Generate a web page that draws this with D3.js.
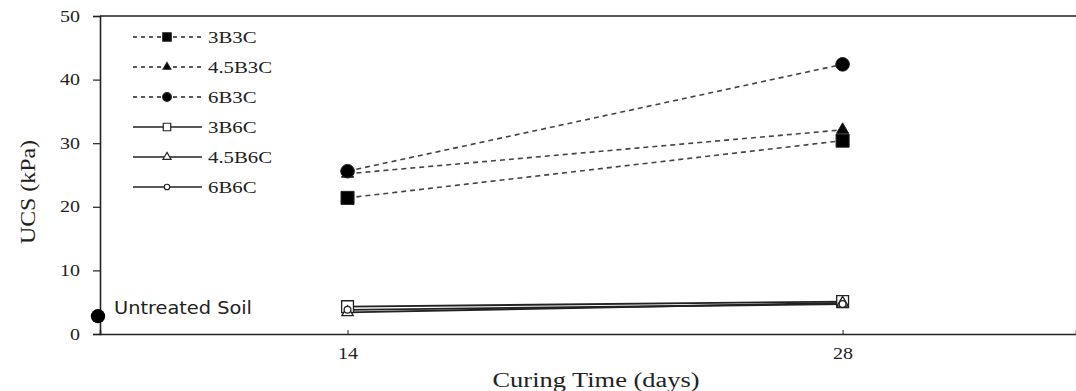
<!DOCTYPE html>
<html>
<head>
<meta charset="utf-8">
<script src="https://cdn.jsdelivr.net/npm/d3@7"></script>
<style>
  html, body { margin: 0; padding: 0; background: #fff; }
  svg { display: block; }
</style>
</head>
<body>
<svg id="chart" width="1076" height="391"></svg>
<script>
// Curing times (days) and UCS results (kPa)
const curingDays = [14, 28];
const seriesNames = ["3B3C", "4.5B3C", "6B3C", "3B6C", "4.5B6C", "6B6C"];
const ucs3B3C   = [21.4, 30.4];
const ucs45B3C  = [25.2, 32.1];
const ucs6B3C   = [25.6, 42.4];
const ucs3B6C   = [4.3, 5.1];
const ucs45B6C  = [3.4, 4.9];
const ucs6B6C   = [3.8, 4.7];
const untreatedSoil = 2.8;
const yTicks = [0, 10, 20, 30, 40, 50];
const xTicks = [14, 28];

const seriesValues = [ucs3B3C, ucs45B3C, ucs6B3C, ucs3B6C, ucs45B6C, ucs6B6C];
const styles = [
  { dash: "5,4", symbol: d3.symbolSquare,   fill: "#000", size: 170, legendSize: 72 },
  { dash: "5,4", symbol: d3.symbolTriangle, fill: "#000", size: 64,  legendSize: 26 },
  { dash: "5,4", symbol: d3.symbolCircle,   fill: "#000", size: 145, legendSize: 60 },
  { dash: null,  symbol: d3.symbolSquare,   fill: "#fff", size: 140, legendSize: 56 },
  { dash: null,  symbol: d3.symbolTriangle, fill: "#fff", size: 55,  legendSize: 28 },
  { dash: null,  symbol: d3.symbolCircle,   fill: "#fff", size: 36,  legendSize: 24 }
];

const svg = d3.select("#chart");
const plotLeft = 100, plotRight = 1076, plotTop = 16, plotBottom = 334;

const x = d3.scaleLinear().domain([7, 34.6]).range([plotLeft, plotRight]);
const y = d3.scaleLinear().domain([0, 50]).range([plotBottom, plotTop]);

const serif = "'Liberation Serif', 'Times New Roman', serif";

// Widen text glyphs horizontally by a factor (the chart's text is set wide)
function widen(sel, factor) {
  sel.each(function () {
    const w = this.getComputedTextLength();
    d3.select(this).attr("textLength", w * factor).attr("lengthAdjust", "spacingAndGlyphs");
  });
}

// Y axis
const yAxis = svg.append("g")
  .attr("transform", `translate(${plotLeft},0)`)
  .attr("font-family", serif)
  .call(d3.axisLeft(y).tickValues(yTicks).tickSize(7).tickPadding(13));
yAxis.select(".domain").attr("stroke", "#222").attr("stroke-width", 1.6);
yAxis.selectAll(".tick line").attr("stroke", "#222").attr("stroke-width", 1.2);
yAxis.selectAll(".tick text")
  .attr("font-family", serif).attr("font-size", 16).attr("fill", "#222");
widen(yAxis.selectAll(".tick text"), 1.25);

// X axis
const xAxis = svg.append("g")
  .attr("transform", `translate(0,${plotBottom})`)
  .attr("font-family", serif)
  .call(d3.axisBottom(x).tickValues(xTicks).tickSize(-4).tickPadding(14));
xAxis.select(".domain").attr("stroke", "#222").attr("stroke-width", 1.6);
xAxis.selectAll(".tick line").attr("stroke", "#222");
xAxis.selectAll(".tick text")
  .attr("font-family", serif).attr("font-size", 16).attr("fill", "#222");
widen(xAxis.selectAll(".tick text"), 1.25);

// Top border
svg.append("line")
  .attr("x1", plotLeft).attr("x2", plotRight)
  .attr("y1", plotTop).attr("y2", plotTop)
  .attr("stroke", "#222").attr("stroke-width", 1.6);

// Axis titles
svg.append("text")
  .attr("x", 596).attr("y", 387)
  .attr("text-anchor", "middle")
  .attr("font-family", serif).attr("font-size", 20).attr("fill", "#222")
  .attr("textLength", 207).attr("lengthAdjust", "spacingAndGlyphs")
  .text("Curing Time (days)");

svg.append("text")
  .attr("transform", `translate(35,192) rotate(-90)`)
  .attr("text-anchor", "middle")
  .attr("font-family", serif).attr("font-size", 22).attr("fill", "#222")
  .attr("textLength", 104).attr("lengthAdjust", "spacingAndGlyphs")
  .text("UCS (kPa)");

// Series lines and markers
const line = d3.line().x((d, i) => x(curingDays[i])).y(d => y(d));

seriesValues.forEach((vals, k) => {
  const s = styles[k];
  svg.append("path")
    .datum(vals)
    .attr("d", line)
    .attr("fill", "none")
    .attr("stroke", s.dash ? "#444" : "#222")
    .attr("stroke-width", s.dash ? 1.6 : 1.8)
    .attr("stroke-dasharray", s.dash);
});

seriesValues.forEach((vals, k) => {
  const s = styles[k];
  svg.append("g").selectAll("path")
    .data(vals)
    .join("path")
    .attr("d", d3.symbol().type(s.symbol).size(s.size))
    .attr("transform", (d, i) => `translate(${x(curingDays[i])},${y(d)})`)
    .attr("fill", s.fill)
    .attr("stroke", "#222")
    .attr("stroke-width", s.fill === "#fff" ? 1.3 : 1);
});

// Untreated soil reference point
svg.append("path")
  .attr("d", d3.symbol().type(d3.symbolCircle).size(160))
  .attr("transform", `translate(${plotLeft - 2},${y(untreatedSoil)})`)
  .attr("fill", "#000");
svg.append("text")
  .attr("x", 114).attr("y", 314)
  .attr("font-family", "'DejaVu Sans', sans-serif").attr("font-size", 18).attr("fill", "#222")
  .attr("textLength", 138).attr("lengthAdjust", "spacingAndGlyphs")
  .text("Untreated Soil");

// Legend
const legend = svg.append("g");
seriesNames.forEach((name, k) => {
  const s = styles[k];
  const ly = 37 + k * 30;
  legend.append("line")
    .attr("x1", 133).attr("x2", 202)
    .attr("y1", ly).attr("y2", ly)
    .attr("stroke", "#222").attr("stroke-width", 1.3)
    .attr("stroke-dasharray", s.dash ? "4,4" : null);
  legend.append("path")
    .attr("d", d3.symbol().type(s.symbol).size(s.legendSize))
    .attr("transform", `translate(167,${ly})`)
    .attr("fill", s.fill)
    .attr("stroke", "#222")
    .attr("stroke-width", 1.2);
  legend.append("text")
    .attr("x", 208).attr("y", ly + 6)
    .attr("font-family", serif).attr("font-size", 16).attr("fill", "#222")
    .text(name);
});
widen(legend.selectAll("text"), 1.3);
</script>
</body>
</html>
